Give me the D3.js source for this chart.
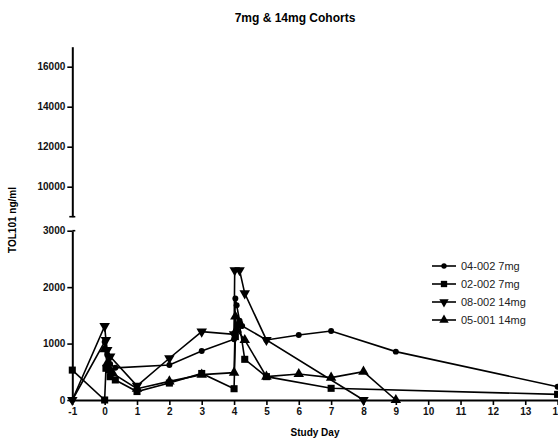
<!DOCTYPE html>
<html>
<head>
<meta charset="utf-8">
<script src="https://cdn.jsdelivr.net/npm/d3@7"></script>
<style>
  body { margin: 0; background: #fff; }
  text { font-family: "Liberation Sans", Arial, sans-serif; }
</style>
</head>
<body>
<div id="chart"></div>
<script>
// series
var names = ['04-002 7mg', '02-002 7mg', '08-002 14mg', '05-001 14mg'];

var days_04002 = [-1, 0, 0.08, 0.17, 0.33, 2, 3, 4, 4.04, 4.08, 4.17, 4.25, 5, 6, 7, 9, 14];
var vals_04002 = [0, 1030, 800, 640, 570, 620, 870, 1076, 1800, 1680, 1406, 1312, 1064, 1152, 1223, 857, 235];

var days_02002 = [-1, 0, 0.04, 0.17, 0.33, 1, 2, 3, 4, 4.04, 4.17, 4.33, 5, 7, 14];
var vals_02002 = [530, 0, 562, 413, 355, 150, 300, 470, 200, 1123, 1330, 721, 414, 207, 100];

var days_08002 = [-1, 0, 0.04, 0.08, 0.17, 1, 2, 3, 4, 4.02, 4.17, 4.33, 5, 8];
var vals_08002 = [0, 1310, 1064, 887, 768, 250, 740, 1212, 1164, 2300, 2300, 1890, 1064, 0];

var days_05001 = [0, 0.08, 0.17, 0.25, 1, 2, 3, 4, 4.04, 4.08, 4.33, 5, 6, 7, 8, 9];
var vals_05001 = [900, 650, 530, 473, 200, 330, 450, 485, 1480, 1250, 1064, 414, 461, 396, 502, 0];

var xTicks = [-1, 0, 1, 2, 3, 4, 5, 6, 7, 8, 9, 10, 11, 12, 13, 14];
var yTicksLow = [0, 1000, 2000, 3000];
var yTicksHigh = [10000, 12000, 14000, 16000];

var width_svg = 558, height_svg = 439;

var svg = d3.select('#chart')
    .append('svg')
    .attr('width', width_svg)
    .attr('height', height_svg);

var x = d3.scaleLinear().domain([-1, 14]).range([72.3, 557.6]);
var yLow = d3.scaleLinear().domain([0, 3000]).range([400, 230.7]);
var yHigh = d3.scaleLinear().domain([8500, 17000]).range([216.7, 46.7]);

var plain = function(d) { return String(d); };

// title
svg.append('text')
    .attr('x', 295).attr('y', 22)
    .attr('text-anchor', 'middle')
    .style('font-size', '12px').style('font-weight', 'bold')
    .text('7mg & 14mg Cohorts');

// axes
function styleAxis(g) {
    g.selectAll('text')
        .style('font-size', '10px').style('font-weight', 'bold')
        .attr('fill', '#111');
    g.selectAll('line').attr('stroke', '#000').attr('stroke-width', 1.6);
    g.select('.domain').attr('stroke', '#000').attr('stroke-width', 2);
}

svg.append('g')
    .attr('transform', 'translate(' + x(-1) + ',0)')
    .call(d3.axisLeft(yLow).tickValues(yTicksLow).tickFormat(plain).tickSize(5).tickSizeOuter(0).tickPadding(2))
    .call(styleAxis);

svg.append('g')
    .attr('transform', 'translate(' + x(-1) + ',0)')
    .call(d3.axisLeft(yHigh).tickValues(yTicksHigh).tickFormat(plain).tickSize(5).tickSizeOuter(0).tickPadding(2))
    .call(styleAxis);

// caps at the axis break
svg.append('line')
    .attr('x1', x(-1) - 3).attr('x2', x(-1) + 3)
    .attr('y1', yHigh(8500)).attr('y2', yHigh(8500))
    .attr('stroke', '#000').attr('stroke-width', 1.6);
svg.append('line')
    .attr('x1', x(-1)).attr('x2', x(-1) + 3)
    .attr('y1', yLow(3000)).attr('y2', yLow(3000))
    .attr('stroke', '#000').attr('stroke-width', 1.6);

svg.append('g')
    .attr('transform', 'translate(0,' + yLow(0) + ')')
    .call(d3.axisBottom(x).tickValues(xTicks).tickFormat(plain).tickSize(5).tickSizeOuter(0).tickPadding(3))
    .call(styleAxis);

// axis titles
svg.append('text')
    .attr('transform', 'translate(16,220) rotate(-90)')
    .attr('text-anchor', 'middle')
    .style('font-size', '10px').style('font-weight', 'bold')
    .text('TOL101 ng/ml');

svg.append('text')
    .attr('x', 315).attr('y', 436)
    .attr('text-anchor', 'middle')
    .style('font-size', '10px').style('font-weight', 'bold')
    .text('Study Day');

// series
var series = [
    {name: names[0], days: days_04002, vals: vals_04002, sym: d3.symbolCircle, size: 28, rot: 0},
    {name: names[1], days: days_02002, vals: vals_02002, sym: d3.symbolSquare, size: 50, rot: 0},
    {name: names[2], days: days_08002, vals: vals_08002, sym: d3.symbolTriangle, size: 48, rot: 180},
    {name: names[3], days: days_05001, vals: vals_05001, sym: d3.symbolTriangle, size: 48, rot: 0}
];

var line = d3.line()
    .x(function(d) { return x(d[0]); })
    .y(function(d) { return yLow(d[1]); });

var plot = svg.append('g');

series.forEach(function(s) {
    var pts = s.days.map(function(d, i) { return [d, s.vals[i]]; });
    plot.append('path')
        .datum(pts)
        .attr('fill', 'none')
        .attr('stroke', '#000')
        .attr('stroke-width', 1.6)
        .attr('d', line);
    plot.selectAll(null)
        .data(pts)
        .enter()
        .append('path')
        .attr('d', d3.symbol().type(s.sym).size(s.size))
        .attr('transform', function(d) {
            return 'translate(' + x(d[0]) + ',' + yLow(d[1]) + ') rotate(' + s.rot + ')';
        })
        .attr('fill', '#000');
});

// legend
var legend = svg.append('g');
series.forEach(function(s, i) {
    var yy = 266 + i * 18;
    legend.append('line')
        .attr('x1', 432).attr('x2', 456)
        .attr('y1', yy).attr('y2', yy)
        .attr('stroke', '#000').attr('stroke-width', 1.6);
    legend.append('path')
        .attr('d', d3.symbol().type(s.sym).size(s.size * 0.8))
        .attr('transform', 'translate(444,' + yy + ') rotate(' + s.rot + ')')
        .attr('fill', '#000');
    legend.append('text')
        .attr('x', 461).attr('y', yy + 4)
        .style('font-size', '11px')
        .attr('fill', '#222')
        .text(s.name);
});
</script>
</body>
</html>
